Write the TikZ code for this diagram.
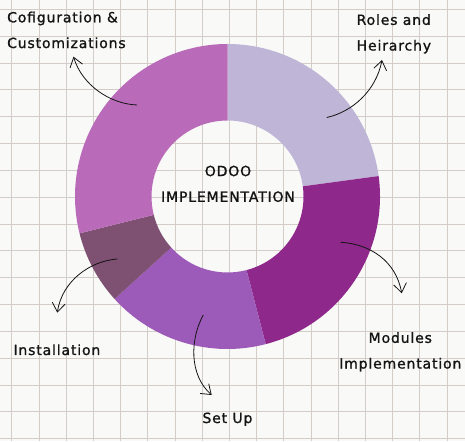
\documentclass[tikz,border=0pt]{standalone}
\usepackage{fontspec}
\newfontfamily\labelfont[LetterSpace=6,FakeBold=1.2]{DejaVu Sans}
\usetikzlibrary{arrows.meta}
\definecolor{bgcol}{RGB}{249,249,248}
\definecolor{gridcol}{RGB}{212,205,199}
\definecolor{lavender}{RGB}{191,181,214}
\definecolor{deeppurple}{RGB}{142,40,138}
\definecolor{midpurple}{RGB}{156,90,185}
\definecolor{mauve}{RGB}{126,80,113}
\definecolor{pinkpurple}{RGB}{185,107,185}
\definecolor{inkcol}{RGB}{20,20,20}
\tikzset{
  gridline/.style={draw=gridcol, line width=0.8pt},
  lbl/.style={font=\fontsize{14}{25.7}\selectfont\labelfont, text=inkcol, inner sep=0pt},
  pointer/.style={draw=inkcol, line width=0.8pt, -{Straight Barb[length=9pt,width=13pt]}},
}
\newcommand{\ringsector}[3]{%
  \fill[#1] (#2:152.5) arc[start angle=#2, end angle=#3, radius=152.5]
    -- (#3:76) arc[start angle=#3, end angle=#2, radius=76] -- cycle;}
\begin{document}
\begin{tikzpicture}[x=1pt,y=1pt]
\useasboundingbox (0,0) rectangle (465,441);
\fill[bgcol] (0,0) rectangle (465,441);
\foreach \k in {0,...,16} {
  \draw[gridline] ({11.7+27.2*\k},0) -- ({11.7+27.2*\k},441);
  \draw[gridline] (0,{431.7-26.83*\k}) -- (465,{431.7-26.83*\k});
}
\begin{scope}[shift={(227.5,244.5)}]
  \ringsector{lavender}{7.7}{90}
  \ringsector{deeppurple}{-75.5}{7.7}
  \ringsector{midpurple}{-137.8}{-75.5}
  \ringsector{mauve}{-166}{-137.8}
  \ringsector{pinkpurple}{90}{194}
\end{scope}
% center title
\node[lbl, align=center, anchor=north] (title) at (228,275.5) {ODOO\\IMPLEMENTATION};
% labels
\node[lbl, align=left, anchor=north west] (config) at (7,429.5) {Cofiguration \&\\Customizations};
\node[lbl, align=left, anchor=north west] (roles) at (356.5,427) {Roles and\\Heirarchy};
\node[lbl, align=center, anchor=north] (modules) at (400.3,109) {Modules\\Implementation};
\node[lbl, anchor=base west] (setup) at (202.3,18) {Set Up};
\node[lbl, anchor=base west] (install) at (13.3,86) {Installation};
% arrow coordinates
\coordinate (cfgS) at (137,336);   \coordinate (cfgE) at (73.5,384.3);
\coordinate (rolS) at (326.7,323.5); \coordinate (rolE) at (382,381);
\coordinate (modS) at (340.7,198.7); \coordinate (modE) at (401.7,147.7);
\coordinate (setS) at (203.3,126); \coordinate (setE) at (211.7,46);
\coordinate (insS) at (117.3,182); \coordinate (insE) at (57.3,128.3);
\draw[pointer] (cfgS) .. controls (110,337) and (82,356) .. (cfgE);
\draw[pointer] (rolS) .. controls (352,329) and (376,350) .. (rolE);
\draw[pointer] (modS) .. controls (370,197) and (396,180) .. (modE);
\draw[pointer] (setS) .. controls (190,102) and (189,66) .. (setE);
\draw[pointer] (insS) .. controls (90,180) and (62,160) .. (insE);
\end{tikzpicture}
\end{document}
